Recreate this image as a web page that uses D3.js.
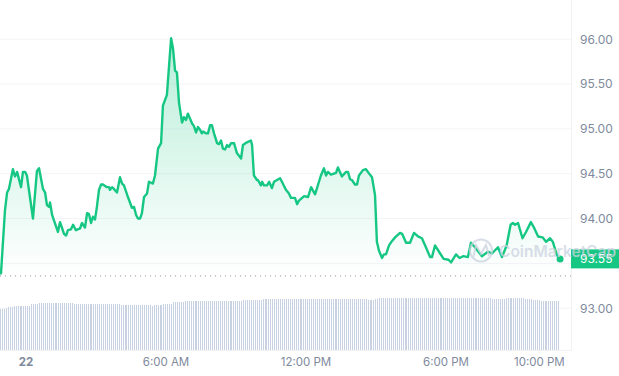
<!DOCTYPE html>
<meta charset="utf-8">
<title>Price chart</title>
<script src="https://d3js.org/d3.v7.min.js"></script>
<style>
  body { margin: 0; background: #fff; font-family: Inter, sans-serif; }
  svg { display: block; }
  .axis text { fill: #808a9d; font-family: Inter, sans-serif; }
  .x.axis text { font-size: 11.5px; }
  .y.axis text { font-size: 12px; }
  .axis path { stroke: #eff2f5; }
  .axis line { stroke: #eff2f5; }
</style>
<div id="chart"></div>
<script>
// hours from midnight of the 22nd
var times = [-1.09,-1.05,-0.88,-0.79,-0.71,-0.54,-0.45,-0.36,-0.19,-0.11,-0.02,0.06,0.32,0.49,0.58,0.75,0.84,0.92,1.01,1.05,
  1.14,1.22,1.39,1.48,1.56,1.65,1.74,1.82,1.95,2.04,2.16,2.34,2.42,2.55,2.64,2.72,2.81,2.89,2.98,3.06,
  3.15,3.24,3.32,3.49,3.58,3.62,3.71,3.79,3.92,3.96,4.05,4.14,4.22,4.39,4.56,4.65,4.74,4.82,4.91,4.99,
  5.08,5.21,5.29,5.46,5.55,5.68,5.81,5.89,6.06,6.24,6.32,6.41,6.49,6.58,6.71,6.79,6.88,6.96,7.14,7.22,
  7.31,7.39,7.48,7.56,7.61,7.74,7.82,7.91,7.99,8.08,8.21,8.29,8.38,8.46,8.55,8.64,8.72,8.81,8.94,9.06,
  9.24,9.32,9.49,9.66,9.71,9.79,9.92,9.96,10.09,10.14,10.22,10.35,10.44,10.56,10.65,10.91,10.99,11.16,11.29,11.38,
  11.55,11.64,11.72,11.94,12.11,12.24,12.41,12.66,12.79,12.88,12.96,13.09,13.31,13.39,13.56,13.74,13.82,13.91,13.99,14.12,
  14.21,14.29,14.46,14.59,14.76,14.85,14.98,15.06,15.15,15.28,15.36,15.45,15.58,15.71,15.84,16.05,16.14,16.31,16.48,16.65,
  16.82,16.99,17.16,17.34,17.42,17.55,17.77,17.92,18.13,18.24,18.45,18.60,18.77,18.96,19.09,19.26,19.56,19.82,19.99,20.25,
  20.42,20.62,20.79,20.89,20.98,21.11,21.30,21.45,21.66,21.79,21.97,22.16,22.31,22.48,22.60,22.78,22.91];

var prices = [93.38,93.39,94.09,94.29,94.33,94.55,94.47,94.52,94.35,94.52,94.52,94.48,94.00,94.53,94.56,94.33,94.29,94.15,94.13,94.18,
  94.04,93.98,93.85,93.96,93.90,93.83,93.81,93.87,93.88,93.93,93.87,93.89,93.95,93.90,94.06,94.05,93.95,94.02,93.99,94.13,
  94.32,94.38,94.38,94.35,94.35,94.32,94.35,94.33,94.29,94.34,94.46,94.39,94.37,94.24,94.12,94.13,94.04,94.00,94.00,94.06,
  94.24,94.28,94.41,94.39,94.48,94.78,94.84,95.26,95.38,96.01,95.90,95.65,95.63,95.29,95.07,95.13,95.10,95.17,95.06,95.03,
  94.96,95.02,94.99,94.95,94.97,94.95,94.95,95.04,95.04,94.95,94.84,94.83,94.87,94.78,94.77,94.82,94.80,94.84,94.84,94.73,
  94.67,94.82,94.85,94.87,94.82,94.48,94.43,94.43,94.37,94.41,94.37,94.37,94.41,94.34,94.41,94.45,94.41,94.32,94.28,94.23,
  94.23,94.16,94.20,94.25,94.24,94.35,94.27,94.48,94.56,94.48,94.52,94.49,94.51,94.57,94.47,94.52,94.52,94.44,94.43,94.38,
  94.38,94.48,94.54,94.55,94.49,94.46,94.26,93.74,93.64,93.56,93.60,93.60,93.70,93.75,93.79,93.84,93.83,93.73,93.73,93.84,
  93.80,93.78,93.68,93.57,93.57,93.70,93.61,93.55,93.54,93.51,93.60,93.56,93.58,93.57,93.73,93.68,93.58,93.63,93.61,93.68,
  93.57,93.70,93.93,93.95,93.93,93.95,93.78,93.85,93.96,93.90,93.80,93.79,93.74,93.78,93.74,93.59,93.55];

// one bar every five minutes, relative volume
var volumeStart = -1.09;
var volumes = [41,41,41,42,43,43,43,44,44,44,44,44,44,44,44,44,46,46,46,46,
  47,47,47,47,47,47,47,47,47,47,47,47,47,47,47,47,47,47,46,46,
  46,46,46,46,46,46,46,46,46,46,46,46,46,46,46,46,46,46,46,46,
  46,46,45,45,45,45,45,45,45,45,45,45,45,45,45,45,45,45,44,45,
  45,45,45,45,46,46,46,46,46,48,48,48,48,48,48,49,49,49,49,49,
  49,49,49,49,49,49,49,49,49,49,49,49,49,49,49,49,49,49,49,49,
  49,49,49,49,49,50,50,50,50,50,50,50,50,50,50,51,51,51,51,51,
  51,51,51,51,51,51,51,51,51,51,51,51,51,51,51,51,51,51,51,51,
  51,51,51,51,51,51,51,51,51,51,51,51,51,51,51,51,51,51,51,51,
  51,51,51,51,51,51,51,51,51,50,50,50,50,51,51,52,52,52,52,52,
  52,52,52,52,52,52,52,52,52,52,52,52,52,52,52,52,52,52,52,52,
  52,52,52,52,52,52,52,52,52,52,52,52,52,52,52,52,52,52,52,52,
  52,52,52,52,52,52,52,52,52,52,52,52,52,51,51,51,51,51,51,51,
  52,52,52,52,52,52,52,52,52,52,51,51,51,51,50,50,50,50,49,49,
  49,49,49,49,49,49,49,49];

var yTicks = [93, 93.5, 94, 94.5, 95, 95.5, 96];
var xTickHours = [0, 6, 12, 18, 22];
var xTickLabels = ["22", "6:00 AM", "12:00 PM", "6:00 PM", "10:00 PM"];
var openPrice = 93.36;
var lastPrice = 93.55;

var width = 619, height = 376;
var plotRight = 571, plotBottom = 350;

var svg = d3.select("#chart").append("svg")
  .attr("width", width)
  .attr("height", height);

var x = d3.scaleLinear().domain([0, 6]).range([25.5, 165.5]);
var y = d3.scaleLinear().domain([93, 96]).range([308.2, 39.2]);
var yVol = d3.scaleLinear().domain([0, 100]).range([plotBottom, plotBottom - 100]);

var defs = svg.append("defs");
var grad = defs.append("linearGradient")
  .attr("id", "areaFill")
  .attr("gradientUnits", "userSpaceOnUse")
  .attr("x1", 0).attr("x2", 0)
  .attr("y1", y(96)).attr("y2", y(openPrice));
grad.append("stop").attr("offset", "0%").attr("stop-color", "#16c784").attr("stop-opacity", 0.3);
grad.append("stop").attr("offset", "100%").attr("stop-color", "#16c784").attr("stop-opacity", 0);

// gridlines
svg.append("g").selectAll("line")
  .data(yTicks)
  .enter().append("line")
  .attr("x1", 0)
  .attr("x2", plotRight)
  .attr("y1", function(d) { return y(d); })
  .attr("y2", function(d) { return y(d); })
  .attr("stroke", "#f3f4f7");

// volume bars
svg.append("g").selectAll("rect")
  .data(volumes)
  .enter().append("rect")
  .attr("x", function(d, i) { return x(volumeStart + i / 12); })
  .attr("width", 1)
  .attr("y", function(d) { return yVol(d); })
  .attr("height", function(d) { return plotBottom - yVol(d); })
  .attr("fill", "#c8d2e3")
  .attr("shape-rendering", "crispEdges");

var points = times.map(function(t, i) { return {t: t, p: prices[i]}; });

var area = d3.area()
  .x(function(d) { return x(d.t); })
  .y0(y(openPrice))
  .y1(function(d) { return y(d.p); });

var line = d3.line()
  .x(function(d) { return x(d.t); })
  .y(function(d) { return y(d.p); });

svg.append("path")
  .datum(points)
  .attr("d", area)
  .attr("fill", "url(#areaFill)");

// dotted open price line
svg.append("line")
  .attr("x1", 0)
  .attr("x2", plotRight)
  .attr("y1", y(openPrice))
  .attr("y2", y(openPrice))
  .attr("stroke", "#8f96a3")
  .attr("stroke-width", 1)
  .attr("stroke-dasharray", "1 4");

svg.append("path")
  .datum(points)
  .attr("d", line)
  .attr("fill", "none")
  .attr("stroke", "#16c784")
  .attr("stroke-width", 2.4)
  .attr("stroke-linejoin", "round");

svg.append("circle")
  .attr("cx", x(times[times.length - 1]))
  .attr("cy", y(lastPrice))
  .attr("r", 3.5)
  .attr("fill", "#16c784");

// axes
var xAxis = d3.axisBottom(x)
  .tickValues(xTickHours)
  .tickSize(3)
  .tickSizeOuter(0)
  .tickPadding(5)
  .tickFormat(function(d, i) { return xTickLabels[i]; });

var xG = svg.append("g")
  .attr("class", "x axis")
  .attr("transform", "translate(0," + plotBottom + ")")
  .call(xAxis);
xG.select(".domain").attr("d", "M0,0.5H" + plotRight);
xG.selectAll(".tick text").filter(function(d) { return d === 0; })
  .style("font-weight", "700");

var yAxis = d3.axisRight(y)
  .tickValues(yTicks.filter(function(d) { return d !== 93.5; }))
  .tickSize(0)
  .tickPadding(9)
  .tickFormat(d3.format(".2f"));

var yG = svg.append("g")
  .attr("class", "y axis")
  .attr("transform", "translate(" + plotRight + ",0)")
  .call(yAxis);
yG.select(".domain").attr("d", "M0.5,0V" + (plotBottom + 0.5));

// current price tag
svg.append("rect")
  .attr("x", plotRight)
  .attr("y", y(lastPrice) - 9.5)
  .attr("width", width - plotRight)
  .attr("height", 19)
  .attr("fill", "#16c784");

svg.append("text")
  .attr("x", plotRight + 9)
  .attr("y", y(lastPrice))
  .attr("dy", ".35em")
  .attr("fill", "#fff")
  .style("font-size", "12px")
  .text(d3.format(".2f")(lastPrice));

// watermark
var wm = svg.append("g").attr("opacity", 0.75);
wm.append("circle")
  .attr("cx", 481).attr("cy", 250.5).attr("r", 11)
  .attr("fill", "none").attr("stroke", "#ccd3e0").attr("stroke-width", 2);
wm.append("path")
  .attr("d", "M473,258 L476,245 L481,254 L486,245 L489,256")
  .attr("fill", "none").attr("stroke", "#ccd3e0").attr("stroke-width", 2);
wm.append("text")
  .attr("x", 499).attr("y", 256.5)
  .attr("fill", "#ccd3e0")
  .style("font-size", "15.5px")
  .style("font-weight", "600")
  .text("CoinMarketCap");
</script>
